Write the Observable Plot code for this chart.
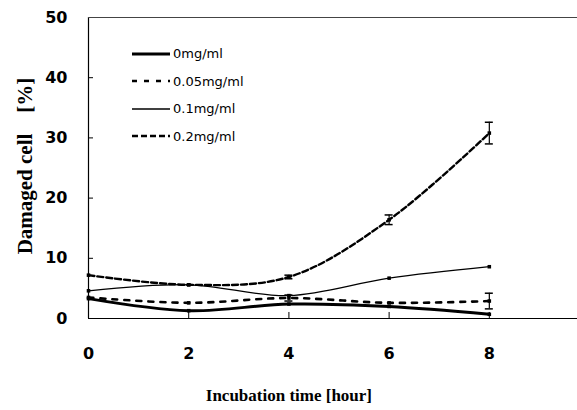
<!DOCTYPE html>
<html><head><meta charset="utf-8">
<script src="https://cdn.jsdelivr.net/npm/d3@7"></script>
<script src="https://cdn.jsdelivr.net/npm/@observablehq/plot@0.6"></script>
<style>
body{margin:0;background:#fff;}
#wrap{position:relative;width:577px;height:410px;}
#legend{position:absolute;left:132px;top:40px;font-family:"DejaVu Sans",sans-serif;font-size:13px;}
#legend div{height:27.5px;display:flex;align-items:center;}
#legend svg{margin-right:3px;}
</style>
</head><body>
<div id="wrap"><div id="legend"></div></div>
<script>
const times = [0, 2, 4, 6, 8];
const seriesNames = ["0mg/ml", "0.05mg/ml", "0.1mg/ml", "0.2mg/ml"];
const v0 = [3.3, 1.3, 2.4, 2.0, 0.7];
const v005 = [3.5, 2.6, 3.4, 2.6, 2.9];
const v01 = [4.6, 5.6, 3.8, 6.7, 8.6];
const v02 = [7.2, 5.6, 6.9, 16.4, 30.8];
const err0 = [0, 0, 0, 0, 0];
const err005 = [0, 0, 0.5, 0, 1.3];
const err01 = [0, 0, 0, 0, 0];
const err02 = [0, 0, 0.3, 0.8, 1.8];
const yTicks = [0, 10, 20, 30, 40, 50];
const xTicks = [0, 2, 4, 6, 8];

const styles = {
  "0mg/ml": {sw: 3, dash: null},
  "0.05mg/ml": {sw: 2.6, dash: "5,7"},
  "0.1mg/ml": {sw: 1.3, dash: null},
  "0.2mg/ml": {sw: 2.4, dash: "6,3"}
};
const vals = [v0, v005, v01, v02];
const errs = [err0, err005, err01, err02];
const data = [];
seriesNames.forEach((s, i) => times.forEach((t, j) => data.push({s, t, v: vals[i][j], e: errs[i][j]})));

const lineMarks = seriesNames.map(s => Plot.line(data.filter(d => d.s === s), {
  x: "t", y: "v", curve: "catmull-rom", stroke: "black",
  strokeWidth: styles[s].sw, strokeDasharray: styles[s].dash
}));
const errData = data.filter(d => d.e > 0).map(d => ({...d, lo: d.v - d.e, hi: d.v + d.e, xl: d.t - 0.08, xr: d.t + 0.08}));
const serif = "Liberation Serif, Times New Roman, serif";

const chart = Plot.plot({
  width: 577, height: 410,
  marginLeft: 88, marginRight: 0, marginTop: 17, marginBottom: 92,
  style: {fontFamily: "DejaVu Sans, sans-serif", background: "white"},
  x: {domain: [0, 9.76], label: null},
  y: {domain: [0, 50], label: null},
  marks: [
    Plot.ruleX([0], {stroke: "black", strokeWidth: 1.2}),
    Plot.ruleY([0], {stroke: "black", strokeWidth: 1.2}),
    Plot.ruleY([50], {stroke: "#444", strokeWidth: 1}),
    Plot.axisY({ticks: yTicks, tickSize: 0, tickPadding: 21, fontSize: 16, fontWeight: "bold", label: null}),
    Plot.ruleY(yTicks.slice(1, 5), {y: d => d, x1: 0, x2: 0.1, stroke: "black"}),
    Plot.axisX({ticks: xTicks, tickSize: 0, tickPadding: 29, fontSize: 16, fontWeight: "bold", label: null}),
    Plot.ruleX(xTicks.slice(1), {x: d => d, y1: 0, y2: 1, stroke: "black"}),
    ...lineMarks,
    Plot.ruleX(errData, {x: "t", y1: "lo", y2: "hi", stroke: "black", strokeWidth: 1.2}),
    Plot.ruleY(errData, {y: "lo", x1: "xl", x2: "xr", stroke: "black", strokeWidth: 1.5}),
    Plot.ruleY(errData, {y: "hi", x1: "xl", x2: "xr", stroke: "black", strokeWidth: 1.5}),
    Plot.dot(data, {x: "t", y: "v", r: 2, fill: "black", symbol: "square"}),
    Plot.text(["Damaged cell\u2003[%]"], {frameAnchor: "left", textAnchor: "middle", dx: -63, dy: -2, rotate: -90, fontSize: 21, fontWeight: "bold", fontFamily: serif}),
    Plot.text(["Incubation time [hour]"], {x: 4, frameAnchor: "bottom", dy: 82, fontSize: 17, fontWeight: "bold", fontFamily: serif})
  ]
});
document.getElementById("wrap").prepend(chart);

const legend = document.getElementById("legend");
seriesNames.forEach(s => {
  const row = document.createElement("div");
  const st = styles[s];
  row.innerHTML = `<svg width="38" height="10"><line x1="0" x2="38" y1="5" y2="5" stroke="black" stroke-width="${st.sw}" ${st.dash ? `stroke-dasharray="${st.dash}"` : ""}/></svg><span>${s}</span>`;
  legend.appendChild(row);
});
</script>
</body></html>
